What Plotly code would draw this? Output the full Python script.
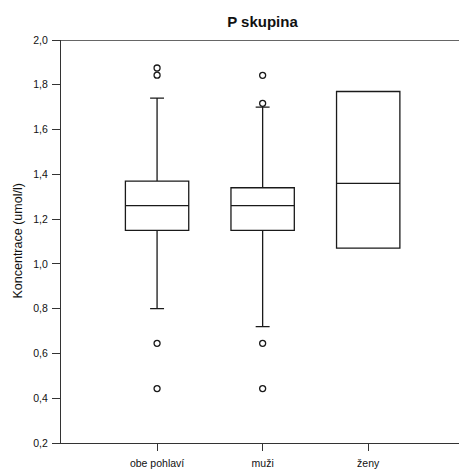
import plotly.graph_objects as go

categories = ["obe pohlaví", "muži", "ženy"]
q1 = [1.15, 1.15, 1.07]
median = [1.26, 1.26, 1.36]
q3 = [1.37, 1.34, 1.77]
lowerfence = [0.80, 0.72, 1.07]
upperfence = [1.74, 1.70, 1.77]
outliers = {
    "obe pohlaví": [1.875, 1.843, 0.645, 0.443],
    "muži": [1.842, 1.717, 0.645, 0.443],
    "ženy": [],
}
yticks = [0.2, 0.4, 0.6, 0.8, 1.0, 1.2, 1.4, 1.6, 1.8, 2.0]

FONT = "Liberation Sans, Arial, sans-serif"
LINE = "#1a1a1a"
AX = "#333333"

fig = go.Figure()
for i, c in enumerate(categories):
    fig.add_trace(go.Box(
        x=[i], q1=[q1[i]], median=[median[i]], q3=[q3[i]],
        lowerfence=[lowerfence[i]], upperfence=[upperfence[i]],
        width=0.6, whiskerwidth=0.22, boxpoints=False,
        fillcolor="white", line=dict(color=LINE, width=1.3),
        showlegend=False, hoverinfo="skip",
    ))
    if outliers[c]:
        fig.add_trace(go.Scatter(
            x=[i] * len(outliers[c]), y=outliers[c], mode="markers",
            marker=dict(symbol="circle-open", size=6, color=LINE, line=dict(width=1.3, color=LINE)),
            showlegend=False, hoverinfo="skip",
        ))

W, H = 459, 470
L, T, B, R = 61, 40, 27, 0
pw = W - L - R

fig.update_layout(
    width=W, height=H,
    margin=dict(l=L, r=R, t=T, b=B),
    paper_bgcolor="white", plot_bgcolor="white",
    separators=", ",
    font=dict(family=FONT, color="#111", size=10.5),
    title=dict(text="<b>P skupina</b>", font=dict(size=15, family=FONT, color="#111"),
               x=262.5 / W, xref="container",
               xanchor="center", y=1 - 22 / H, yanchor="middle"),
    xaxis=dict(
        tickvals=[0, 1, 2], ticktext=categories, range=[-0.91, 2.86],
        showline=True, linecolor=AX, linewidth=1.3,
        ticks="outside", ticklen=7, tickcolor=AX, tickwidth=1.3,
        ticklabelstandoff=3,
        showgrid=False, zeroline=False, fixedrange=True,
        tickfont=dict(size=10.5, family=FONT, color="#111"),
    ),
    yaxis=dict(
        range=[0.2, 2.0], tickvals=yticks, tickformat=".1f",
        showline=True, linecolor=AX, linewidth=1.3,
        ticks="outside", ticklen=8, tickcolor=AX, tickwidth=1.3,
        ticklabelstandoff=2,
        showgrid=False, zeroline=False,
        tickfont=dict(size=10.5, family=FONT, color="#111"),
    ),
    shapes=[dict(type="line", xref="paper", yref="y", x0=0, x1=1, y0=2.0, y1=2.0,
                 line=dict(color=AX, width=1.3))],
    annotations=[dict(text="Koncentrace (umol/l)", textangle=-90, xref="paper", yref="paper",
                      x=(17 - L) / pw, y=0.5, xanchor="center", yanchor="middle",
                      showarrow=False, font=dict(size=12.5, family=FONT, color="#111"))],
)

fig.write_html("out.html")
